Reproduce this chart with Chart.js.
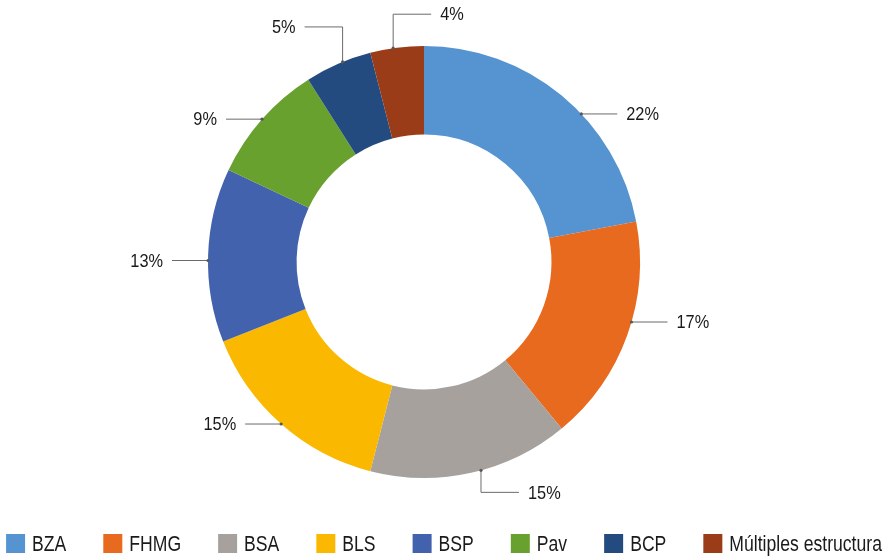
<!DOCTYPE html>
<html>
<head>
<meta charset="utf-8">
<script src="https://cdn.jsdelivr.net/npm/chart.js@4"></script>
<style>
    html, body { margin: 0; padding: 0; background: #fff; }
    #wrap { width: 888px; height: 556px; }
</style>
</head>
<body>
<div id="wrap"><canvas id="donutChart"></canvas></div>
<script>
const categories = ['BZA', 'FHMG', 'BSA', 'BLS', 'BSP', 'Pav', 'BCP', 'Múltiples estructura'];
const shares = [22, 17, 15, 15, 13, 9, 5, 4];
const sliceColors = ['#5694D1', '#E86A1E', '#A6A19D', '#FAB800', '#4362AD', '#69A12F', '#234B80', '#9A3C17'];

// where each leader line leaves the ring and how it bends
const leaders = [
    { frac: 0.59, bend: 'side' },
    { frac: 0.44, bend: 'side' },
    { frac: 0.45, bend: 'down', leg: 22, side: 1 },
    { frac: 0.50, bend: 'side' },
    { frac: 0.47, bend: 'side' },
    { frac: 0.50, bend: 'side' },
    { frac: 0.57, bend: 'up', leg: 35, side: -1 },
    { frac: 0.43, bend: 'up', leg: 34, side: 1 }
];

const FONT = '"Liberation Sans", Arial, sans-serif';
const SQUEEZE = 0.8;   // the original uses a condensed face

function narrowText(ctx, text, x, y, squeeze) {
    ctx.save();
    ctx.translate(x, y);
    ctx.scale(squeeze, 1);
    ctx.fillText(text, 0, 0);
    ctx.restore();
}

const leaderLabels = {
    id: 'leaderLabels',
    afterDatasetsDraw(chart) {
        const ctx = chart.ctx;
        const meta = chart.getDatasetMeta(0);
        const total = shares.reduce((a, b) => a + b, 0);
        ctx.save();
        ctx.strokeStyle = '#6b6b6b';
        ctx.lineWidth = 1;
        ctx.font = '19px ' + FONT;
        ctx.textBaseline = 'middle';
        meta.data.forEach((arc, i) => {
            const p = arc.getProps(['x', 'y', 'startAngle', 'endAngle', 'outerRadius'], true);
            const cfg = leaders[i];
            const a = p.startAngle + cfg.frac * (p.endAngle - p.startAngle);
            const ax = p.x + p.outerRadius * Math.cos(a);
            const ay = p.y + p.outerRadius * Math.sin(a);
            const text = Math.round(shares[i] / total * 100) + '%';
            let ex, ey, side;
            ctx.beginPath();
            ctx.moveTo(ax, ay);
            if (cfg.bend === 'side') {
                side = Math.cos(a) >= 0 ? 1 : -1;
                ex = ax + side * 36;
                ey = ay;
                ctx.lineTo(ex, ey);
            } else {
                side = cfg.side;
                const vy = ay + (cfg.bend === 'up' ? -cfg.leg : cfg.leg);
                ctx.lineTo(ax, vy);
                ex = ax + side * 38;
                ey = vy;
                ctx.lineTo(ex, ey);
            }
            ctx.stroke();
            ctx.fillStyle = '#595959';
            ctx.beginPath();
            ctx.arc(ax, ay, 1.6, 0, Math.PI * 2);
            ctx.fill();
            ctx.fillStyle = '#1a1a1a';
            ctx.textAlign = side > 0 ? 'left' : 'right';
            narrowText(ctx, text, ex + side * 9, ey + 1, 0.86);
        });
        ctx.restore();
    }
};

// single-row legend drawn under the ring, condensed like the original
const bottomLegend = {
    id: 'bottomLegend',
    afterDraw(chart) {
        const ctx = chart.ctx;
        const labels = chart.data.labels;
        const colors = chart.data.datasets[0].backgroundColor;
        const box = 19, gap = 7, spacing = 37;
        ctx.save();
        ctx.font = '22px ' + FONT;
        ctx.textBaseline = 'middle';
        ctx.textAlign = 'left';
        const widths = labels.map(l => ctx.measureText(l).width * SQUEEZE);
        const total = widths.reduce((s, w) => s + box + gap + w, 0) + spacing * (labels.length - 1);
        let x = (chart.width - total) / 2;
        const y = chart.height - 12.5;
        labels.forEach((l, i) => {
            ctx.fillStyle = colors[i];
            ctx.fillRect(x, y - box / 2, box, box);
            ctx.fillStyle = '#1a1a1a';
            narrowText(ctx, l, x + box + gap, y + 1, SQUEEZE);
            x += box + gap + widths[i] + spacing;
        });
        ctx.restore();
    }
};

document.addEventListener('DOMContentLoaded', function () {
    const ctx = document.getElementById('donutChart').getContext('2d');
    new Chart(ctx, {
        type: 'doughnut',
        data: {
            labels: categories,
            datasets: [{
                data: shares,
                backgroundColor: sliceColors,
                borderWidth: 0
            }]
        },
        options: {
            responsive: true,
            maintainAspectRatio: false,
            animation: false,
            radius: 216,
            cutout: '59%',
            layout: { padding: { top: 0, bottom: 32, left: 0, right: 40 } },
            plugins: {
                tooltip: { enabled: false },
                legend: { display: false }
            }
        },
        plugins: [leaderLabels, bottomLegend]
    });
});
</script>
</body>
</html>
